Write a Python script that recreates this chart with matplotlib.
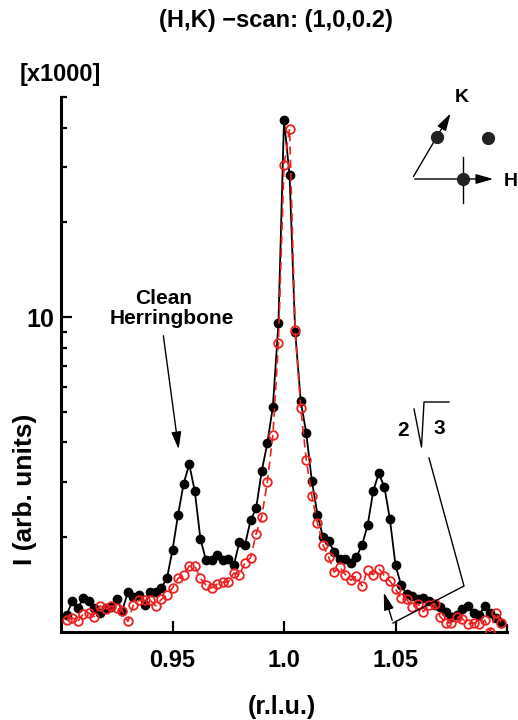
import matplotlib
matplotlib.use("Agg")
import matplotlib.pyplot as plt
from matplotlib.lines import Line2D

plt.rcParams['font.family'] = ['Liberation Sans', 'DejaVu Sans']
plt.rcParams['font.weight'] = 'bold'

# scan positions (r.l.u.)
h = [0.9025, 0.905, 0.9075, 0.91, 0.9125, 0.915, 0.9175, 0.92, 0.9225, 0.925,
     0.9275, 0.93, 0.9325, 0.935, 0.9375, 0.94, 0.9425, 0.945, 0.9475, 0.95,
     0.9525, 0.955, 0.9575, 0.96, 0.9625, 0.965, 0.9675, 0.97, 0.9725, 0.975,
     0.9775, 0.98, 0.9825, 0.985, 0.9875, 0.99, 0.9925, 0.995, 0.9975, 1.0,
     1.0025, 1.005, 1.0075, 1.01, 1.0125, 1.015, 1.0175, 1.02, 1.0225, 1.025,
     1.0275, 1.03, 1.0325, 1.035, 1.0375, 1.04, 1.0425, 1.045, 1.0475, 1.05,
     1.0525, 1.055, 1.0575, 1.06, 1.0625, 1.065, 1.0675, 1.07, 1.0725, 1.075,
     1.0775, 1.08, 1.0825, 1.085, 1.0875, 1.09, 1.0925, 1.095, 1.0975]

# clean herringbone (black, filled)
clean = [1.13, 1.25, 1.19, 1.28, 1.25, 1.19, 1.15, 1.19, 1.20, 1.27,
         1.17, 1.34, 1.29, 1.31, 1.22, 1.34, 1.34, 1.38, 1.48, 1.82,
         2.36, 2.96, 3.41, 2.80, 1.98, 1.69, 1.69, 1.75, 1.69, 1.71,
         1.63, 1.93, 1.89, 2.26, 2.47, 3.24, 3.97, 5.19, 9.55, 42.4,
         28.2, 9.0, 5.42, 4.27, 3.02, 2.36, 2.00, 1.94, 1.80, 1.70,
         1.70, 1.66, 1.73, 1.89, 2.18, 2.80, 3.19, 2.89, 2.28, 1.63,
         1.41, 1.32, 1.30, 1.27, 1.28, 1.25, 1.22, 1.20, 1.16, 1.12,
         1.13, 1.18, 1.21, 1.15, 1.13, 1.21, 1.15, 1.11, 1.07]

# second scan (red, open)
other = [1.09, 1.11, 1.08, 1.14, 1.15, 1.12, 1.21, 1.18, 1.21, 1.19,
         1.17, 1.08, 1.22, 1.26, 1.26, 1.26, 1.21, 1.27, 1.31, 1.38,
         1.48, 1.52, 1.62, 1.62, 1.48, 1.41, 1.38, 1.42, 1.44, 1.44,
         1.54, 1.52, 1.66, 1.72, 2.05, 2.32, 2.99, 4.22, 8.25, 30.4,
         39.7, 9.1, 5.14, 3.52, 2.70, 2.22, 1.89, 1.73, 1.55, 1.61,
         1.52, 1.46, 1.51, 1.40, 1.57, 1.52, 1.59, 1.51, 1.45, 1.37,
         1.28, 1.27, 1.20, 1.23, 1.16, 1.22, 1.23, 1.12, 1.07, 1.07,
         1.12, 1.10, 1.06, 1.07, 1.06, 1.09, 1.00, 1.15, 1.07]

W, H = 518, 720
fig = plt.figure(figsize=(W / 100, H / 100), dpi=100)
ax = fig.add_axes([61 / W, 88 / H, 446 / W, 535 / H])


def px(x, y):
    # image pixel (from top-left) -> figure fraction
    return x / W, 1 - y / H


ax.plot(h, clean, '-', color='black', lw=1.3, marker='o', ms=6, mfc='black', mec='black', zorder=3)
ax.plot(h, other, '--', color='#ee2020', lw=1.2, dashes=(5, 3), marker='o', ms=6.2,
        mfc='none', mec='#ee2020', mew=1.3, zorder=4)

ax.set_yscale('log')
ax.set_xlim(0.9, 1.1)
ax.set_ylim(1, 50)
ax.set_yticks([10])
ax.set_yticklabels(['10'])
ax.set_xticks([0.95, 1.0, 1.05])
ax.set_xticklabels(['0.95', '1.0', '1.05'])
ax.set_xticks([1.1], minor=True)

for s in ['top', 'right']:
    ax.spines[s].set_visible(False)
for s in ['left', 'bottom']:
    ax.spines[s].set_linewidth(2.2)

ax.tick_params(axis='both', which='both', direction='in', width=1.6)
ax.tick_params(axis='x', which='major', length=8, labelsize=17, pad=12)
ax.tick_params(axis='x', which='minor', length=6)
ax.tick_params(axis='y', which='major', length=8, labelsize=18, pad=5)
ax.tick_params(axis='y', which='minor', length=4)
ax.yaxis.set_minor_formatter(plt.NullFormatter())

fig.text(*px(276, 20), '(H,K) \u2212scan: (1,0,0.2)', ha='center', va='center', fontsize=17, fontweight='bold')
fig.text(*px(60, 75), '[x1000]', ha='center', va='center', fontsize=17, fontweight='bold')
fig.text(*px(282, 707), '(r.l.u.)', ha='center', va='center', fontsize=18, fontweight='bold')
fig.text(*px(25, 489), 'I (arb. units)', ha='center', va='center', rotation=90, fontsize=19, fontweight='bold')

# Clean herringbone label and arrow
fig.text(*px(164, 298), 'Clean', ha='center', va='center', fontsize=15, fontweight='bold')
fig.text(*px(172, 319), 'Herringbone', ha='center', va='center', fontsize=15, fontweight='bold')
ax.annotate('', xy=px(179, 452), xycoords='figure fraction', xytext=px(163, 333), textcoords='figure fraction',
            arrowprops=dict(arrowstyle='-|>,head_length=0.7,head_width=0.2', mutation_scale=15, lw=1, color='black'))

# 2 sqrt(3) bracket
fig.text(*px(403, 431), '2', ha='center', va='center', fontsize=15, fontweight='bold')
fig.text(*px(439, 428), '3', ha='center', va='center', fontsize=15, fontweight='bold')
rx, ry = zip(px(414, 409), px(421.5, 447), px(424, 402), px(449, 402))
fig.add_artist(Line2D(rx, ry, color='black', lw=1))
bx, by = zip(px(429, 458), px(464, 586), px(393, 623))
fig.add_artist(Line2D(bx, by, color='black', lw=1))
ax.annotate('', xy=px(383, 590), xycoords='figure fraction', xytext=px(393, 623), textcoords='figure fraction',
            arrowprops=dict(arrowstyle='-|>,head_length=0.7,head_width=0.2', mutation_scale=15, lw=1, color='black'))

# reciprocal lattice inset
ax.annotate('', xy=px(452, 111), xycoords='figure fraction', xytext=px(412, 179), textcoords='figure fraction',
            arrowprops=dict(arrowstyle='-|>,head_length=0.7,head_width=0.2', mutation_scale=15, lw=1, color='black'))
ax.annotate('', xy=px(496, 179), xycoords='figure fraction', xytext=px(412, 179), textcoords='figure fraction',
            arrowprops=dict(arrowstyle='-|>,head_length=0.7,head_width=0.2', mutation_scale=15, lw=1, color='black'))
vx, vy = zip(px(462.5, 157), px(462.5, 203))
fig.add_artist(Line2D(vx, vy, color='black', lw=1))
for cx, cy in [(437, 137), (488, 138), (462.5, 179)]:
    dx, dy = px(cx, cy)
    fig.add_artist(Line2D([dx], [dy], marker='o', ms=8.5, color='#222222', ls='none'))
fig.text(*px(462, 98), 'K', ha='center', va='center', fontsize=14, fontweight='bold')
fig.text(*px(504, 182), 'H', ha='left', va='center', fontsize=14, fontweight='bold')

fig.savefig('out.png', dpi=100)
